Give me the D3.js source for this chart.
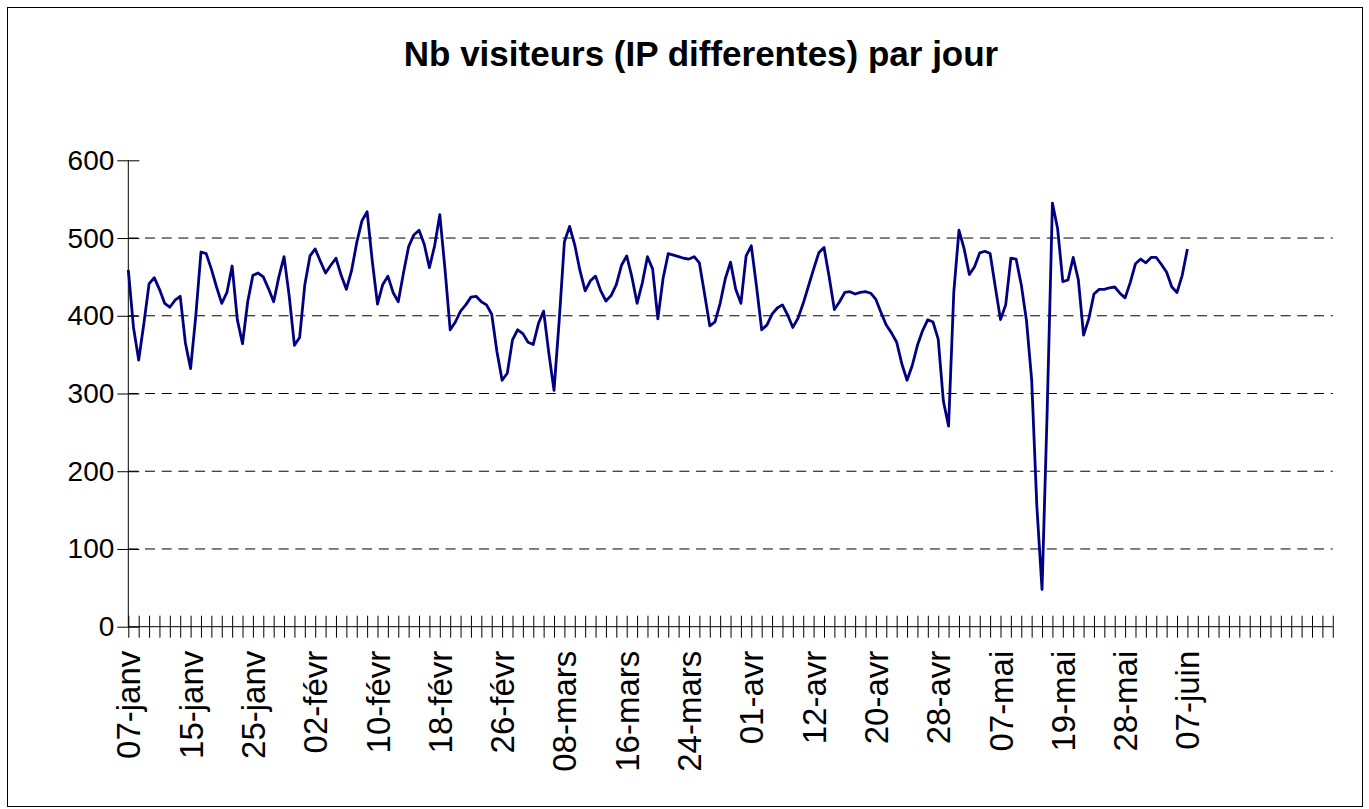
<!DOCTYPE html>
<html><head><meta charset="utf-8">
<script src="https://cdn.jsdelivr.net/npm/d3@7/dist/d3.min.js"></script>
<style>body{margin:0;background:#fff}svg{display:block}</style>
</head><body>
<svg id="chart" width="1369" height="809"></svg>
<script>
const chartTitle = "Nb visiteurs (IP differentes) par jour";
const dateLabels = ["07-janv","15-janv","25-janv","02-févr","10-févr","18-févr","26-févr","08-mars","16-mars","24-mars","01-avr","12-avr","20-avr","28-avr","07-mai","19-mai","28-mai","07-juin"];
const visitors = [
459,385,343,390,441,449,434,416,411,420,425,365,332,400,482,480,460,437,416,430,
464,395,364,418,452,455,450,435,418,450,476,425,362,372,440,477,486,470,455,465,
474,452,434,458,494,522,534,470,415,440,451,430,418,455,489,504,510,492,462,490,
530,460,382,392,406,414,424,425,418,414,402,354,317,326,369,382,377,366,363,390,
406,352,304,394,495,515,491,458,432,445,451,432,419,426,440,465,477,450,416,442,
476,460,396,448,480,478,476,474,473,476,468,428,387,392,416,448,469,434,416,477,
490,438,382,388,402,410,414,401,385,397,416,438,460,481,488,450,408,418,430,431,
428,430,431,429,421,404,388,378,366,338,317,336,362,381,395,392,370,290,258,430,
510,486,453,463,481,483,480,437,395,414,474,473,440,394,318,155,48,280,545,512,
444,446,475,446,375,396,428,434,434,436,437,429,423,443,467,473,468,475,475,466,
456,437,430,452,486];
const yTickValues = [0,100,200,300,400,500,600];
const gridValues = [100,200,300,400,500];
const categoriesPerLabel = 12;
const categoriesPerTick = 2;
const totalCategories = 232;

(function () {
const svg = d3.select("#chart");
const pLeft = 128.3, catW = 5.1917, pTop = 160.3, pBottom = 626.7;
const x = d3.scaleLinear().domain([0, totalCategories]).range([pLeft, pLeft + totalCategories * catW]);
const y = d3.scaleLinear().domain([0, 600]).range([pBottom, pTop]);
const FONT = "'Liberation Sans', Arial, sans-serif";

svg.append("rect").attr("x", 7.5).attr("y", 7.5).attr("width", 1355).attr("height", 799)
  .attr("fill", "#fff").attr("stroke", "#000").attr("stroke-width", 1);

svg.append("text").attr("x", 701).attr("y", 66).attr("text-anchor", "middle")
  .attr("font-family", FONT).attr("font-weight", "bold").attr("font-size", 35).text(chartTitle);

svg.append("g").selectAll("line").data(gridValues).join("line")
  .attr("x1", x(0)).attr("x2", x(totalCategories))
  .attr("y1", d => y(d)).attr("y2", d => y(d))
  .attr("stroke", "#000").attr("stroke-width", 1).attr("stroke-dasharray", "10,6.7");

const yAxis = svg.append("g").attr("transform", `translate(${pLeft},0)`)
  .call(d3.axisLeft(y).tickValues(yTickValues).tickSize(11).tickPadding(3));
yAxis.select(".domain").attr("stroke", "#000").attr("d", `M0,${pTop}V${pBottom}`);
yAxis.selectAll(".tick line").attr("x1", 11).attr("x2", -11).attr("stroke", "#000");
yAxis.selectAll(".tick text").attr("font-family", FONT).attr("font-size", 28).attr("fill", "#000");

const xTicks = d3.range(0, totalCategories + 1, categoriesPerTick);
const xAxis = svg.append("g").attr("transform", `translate(0,${pBottom})`)
  .call(d3.axisBottom(x).tickValues(xTicks).tickSize(11).tickFormat(""));
xAxis.select(".domain").attr("stroke", "#000").attr("d", `M${x(0)},0H${x(totalCategories)}`);
xAxis.selectAll(".tick line").attr("y1", -11).attr("y2", 11).attr("stroke", "#000");

const labelIdx = dateLabels.map((d, i) => i * categoriesPerLabel);
const xLab = svg.append("g").attr("transform", `translate(0,${pBottom})`)
  .call(d3.axisBottom(x).tickValues(labelIdx).tickSize(0).tickFormat((d, i) => dateLabels[i]));
xLab.select(".domain").remove();
xLab.selectAll(".tick text")
  .attr("font-family", FONT).attr("font-size", 33).attr("fill", "#000")
  .attr("text-anchor", "end").attr("dy", null).attr("y", 0)
  .attr("transform", "translate(0,24) rotate(-90)")
  .attr("dominant-baseline", "central");

const line = d3.line().x((d, i) => x(i)).y(d => y(d));
svg.append("path").datum(visitors).attr("d", line)
  .attr("fill", "none").attr("stroke", "#000080").attr("stroke-width", 2.8)
  .attr("stroke-linejoin", "round");
})();
</script>
</body></html>
